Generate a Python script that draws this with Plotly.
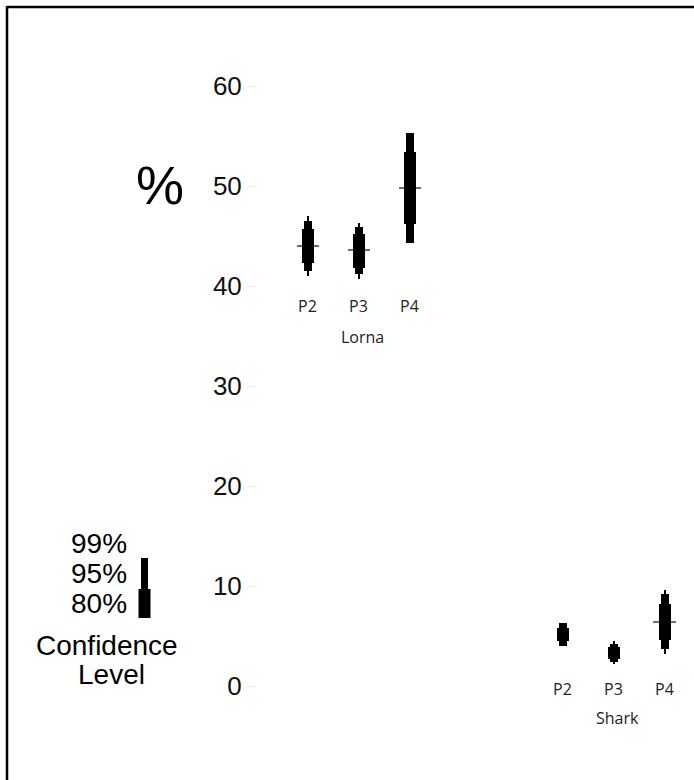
import plotly.graph_objects as go

# ---------------- data ----------------
groups = ["Lorna", "Lorna", "Lorna", "Shark", "Shark", "Shark"]
labels = ["P2", "P3", "P4", "P2", "P3", "P4"]
xpos = [1, 2, 3, 6, 7, 8]
median = [44.0, 43.6, 49.8, None, None, 6.4]
lo99 = [41.0, 40.7, None, None, 2.2, 3.2]
hi99 = [47.0, 46.3, None, None, 4.5, 9.6]
lo95 = [41.5, 41.2, 44.3, 4.0, 2.4, 3.7]
hi95 = [46.5, 45.9, 55.3, 6.3, 4.2, 9.2]
lo80 = [42.3, 41.8, 46.2, 4.5, 2.7, 4.6]
hi80 = [45.7, 45.2, 53.4, 5.8, 3.9, 8.2]
group_names = ["Lorna", "Shark"]
group_x = [2.07, 7.07]
label_y = [38.0, -0.3]
group_y = [34.9, -3.2]
yticks = [0, 10, 20, 30, 40, 50, 60]
legend_levels = ["99%", "95%", "80%"]

# ---------------- layout constants ----------------
W, H = 694, 780
L, R, T, B = 257, 0, 46, 14
XR = [0, 8.57]
YR = [-8, 64]
pw, ph = W - L - R, H - T - B
MEDIAN_THICK = 0.1  # in data units (~1 px)


def px_x(px):
    return (px - L) / pw


def px_y(py):
    return (H - B - py) / ph


def rng(lo, hi):
    xs, bs, hs = [], [], []
    for x, a, b in zip(xpos, lo, hi):
        if a is None or b is None:
            continue
        xs.append(x)
        bs.append(a)
        hs.append(b - a)
    return xs, bs, hs


fig = go.Figure()

# median lines first (as thin wide bars) so the black ranges cover them
mx = [x for x, m in zip(xpos, median) if m is not None]
mb = [m - MEDIAN_THICK / 2 for m in median if m is not None]
fig.add_trace(go.Bar(x=mx, y=[MEDIAN_THICK] * len(mx), base=mb, width=0.45,
                     marker=dict(color="#6e6e6e", line=dict(width=0)),
                     showlegend=False, hoverinfo="skip"))

for lo, hi, w in [(lo99, hi99, 0.04), (lo95, hi95, 0.14), (lo80, hi80, 0.235)]:
    xs, bs, hs = rng(lo, hi)
    fig.add_trace(go.Bar(x=xs, y=hs, base=bs, width=w,
                         marker=dict(color="black", line=dict(width=0)),
                         showlegend=False, hoverinfo="skip"))

lab_font = dict(family="Open Sans", size=16, color="#222")
txt_font = dict(family="Liberation Sans", size=28, color="black")

annotations = []
for i, (x, lab) in enumerate(zip(xpos, labels)):
    gi = 0 if groups[i] == "Lorna" else 1
    annotations.append(dict(x=x, y=label_y[gi], text=lab, showarrow=False,
                            xref="x", yref="y", xanchor="center", yanchor="middle",
                            font=lab_font))
for gx, gy, gname in zip(group_x, group_y, group_names):
    annotations.append(dict(x=gx, y=gy, text=gname, showarrow=False,
                            xref="x", yref="y", xanchor="center", yanchor="middle",
                            font=lab_font))

# "%" axis title
annotations.append(dict(x=px_x(160), y=px_y(185), xref="paper", yref="paper",
                        text="%", showarrow=False, xanchor="center", yanchor="middle",
                        font=dict(family="Liberation Sans", size=54, color="black")))

# legend text
for txt, py in zip(legend_levels, [543, 573, 603]):
    annotations.append(dict(x=px_x(129), y=px_y(py), xref="paper", yref="paper",
                            text=txt, showarrow=False, xanchor="right", yanchor="middle",
                            font=txt_font))
annotations.append(dict(x=px_x(107), y=px_y(645), xref="paper", yref="paper",
                        text="Confidence", showarrow=False,
                        xanchor="center", yanchor="middle", font=txt_font))
annotations.append(dict(x=px_x(111), y=px_y(674), xref="paper", yref="paper",
                        text="Level", showarrow=False,
                        xanchor="center", yanchor="middle", font=txt_font))

shapes = [
    # legend key
    dict(type="rect", xref="paper", yref="paper",
         x0=px_x(141), x1=px_x(148), y0=px_y(589), y1=px_y(558),
         fillcolor="black", line=dict(width=0)),
    dict(type="rect", xref="paper", yref="paper",
         x0=px_x(138.5), x1=px_x(150.5), y0=px_y(618), y1=px_y(589),
         fillcolor="black", line=dict(width=0)),
    # frame (top and left)
    dict(type="line", xref="paper", yref="paper",
         x0=px_x(7), x1=px_x(W + 2), y0=px_y(7), y1=px_y(7),
         line=dict(color="black", width=2.5)),
    dict(type="line", xref="paper", yref="paper",
         x0=px_x(7), x1=px_x(7), y0=px_y(6), y1=px_y(H + 2),
         line=dict(color="black", width=2.5)),
]

fig.update_layout(
    width=W, height=H,
    margin=dict(l=L, r=R, t=T, b=B, pad=0),
    paper_bgcolor="white", plot_bgcolor="white",
    barmode="overlay", bargap=0,
    showlegend=False,
    annotations=annotations,
    shapes=shapes,
    xaxis=dict(range=XR, visible=False, fixedrange=True),
    yaxis=dict(range=YR, tickvals=yticks, ticktext=[str(v) for v in yticks],
               showgrid=False, zeroline=False, showline=False,
               ticks="outside", ticklen=9, tickcolor="#ececec", tickwidth=1,
               tickfont=dict(family="Liberation Sans", size=26, color="#111"),
               minor=dict(ticks="outside", tick0=10, dtick=20, ticklen=9,
                          tickcolor="#6a6a6a", tickwidth=1, showgrid=False),
               fixedrange=True),
)

fig.write_html("out.html")
